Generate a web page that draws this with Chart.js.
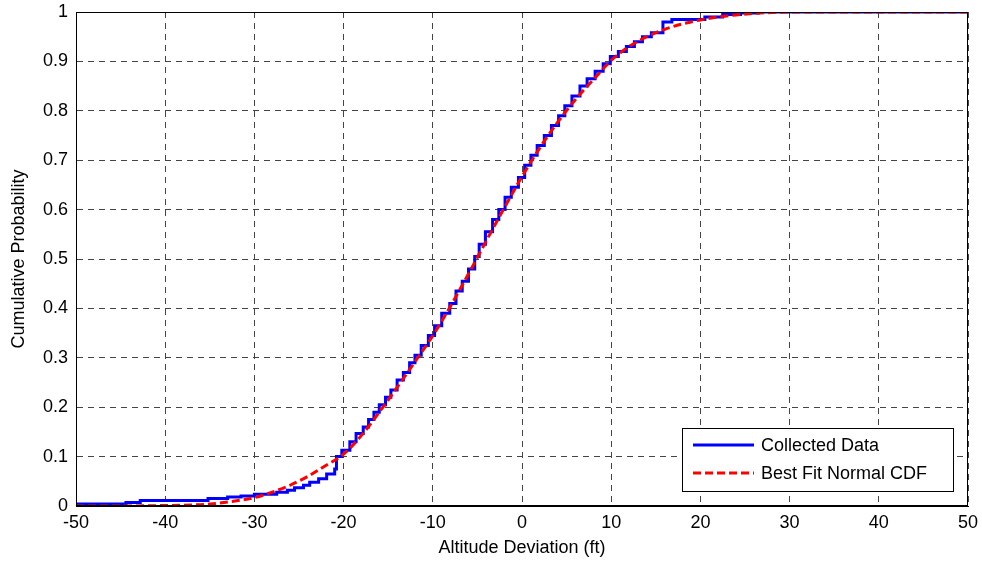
<!DOCTYPE html>
<html>
<head>
<meta charset="utf-8">
<script src="https://cdn.jsdelivr.net/npm/chart.js@4.4.1/dist/chart.umd.min.js"></script>
<style>
  html, body { margin: 0; padding: 0; background: #fff; }
  #wrap { width: 982px; height: 562px; }
</style>
</head>
<body>
<div id="wrap"><canvas id="c" width="982" height="562"></canvas></div>
<script>
// ---- data ----
const seriesNames = ['Collected Data', 'Best Fit Normal CDF'];

// Empirical CDF (step points: x where the jump occurs, y after the jump)
const collectedX = [-50, -44.4, -42.8, -35.2, -33.0, -31.5, -30.0, -27.5, -26.3, -25.5, -24.5, -23.8, -22.8, -21.9, -21.0, -20.8, -20.2,
  -19.3, -18.6, -17.8, -17.2, -16.6, -16.0, -15.3, -14.7, -14.0, -13.3, -12.6, -12.0, -11.3, -10.5, -9.8, -9.0, -8.1, -7.4, -6.7,
  -6.0, -5.3, -4.8, -4.1, -3.3, -2.6, -1.9, -1.2, -0.4, 0.3, 1.0, 1.7, 2.5, 3.3, 4.1, 4.8, 5.6, 6.5, 7.3, 8.2, 9.1, 9.9, 10.8,
  11.7, 12.6, 13.5, 14.5, 15.8, 16.8, 20.5, 22.5, 24.5, 26.5, 27.5, 50];
const collectedY = [0, 0.004, 0.007, 0.011, 0.015, 0.018, 0.020, 0.024, 0.028, 0.032, 0.037, 0.042, 0.048, 0.055, 0.065, 0.075, 0.100,
  0.113, 0.130, 0.147, 0.160, 0.175, 0.190, 0.205, 0.220, 0.235, 0.255, 0.270, 0.290, 0.305, 0.325, 0.345, 0.365, 0.390, 0.410, 0.435,
  0.455, 0.480, 0.505, 0.530, 0.555, 0.580, 0.600, 0.625, 0.645, 0.665, 0.690, 0.710, 0.730, 0.750, 0.770, 0.790, 0.810, 0.830, 0.850, 0.865, 0.880, 0.895, 0.910,
  0.920, 0.930, 0.940, 0.950, 0.958, 0.980, 0.985, 0.990, 0.995, 0.998, 1.0, 1.0];

// Best-fit normal CDF
const fitX = [-50, -45, -40, -37, -35, -33, -30, -28, -26, -24, -22, -20, -18, -16, -14, -12, -10, -8, -6, -4, -2, 0,
  2, 4, 6, 8, 10, 12, 14, 16, 18, 20, 22, 24, 26, 28, 30, 35, 40, 50];
const fitY = [0, 0, 0.001, 0.002, 0.004, 0.008, 0.017, 0.028, 0.042, 0.060, 0.082, 0.105, 0.143, 0.190, 0.240, 0.292, 0.345, 0.405, 0.470, 0.537, 0.603, 0.667,
  0.725, 0.777, 0.823, 0.863, 0.902, 0.930, 0.950, 0.965, 0.976, 0.984, 0.990, 0.994, 0.997, 0.999, 1.0, 1.0, 1.0, 1.0];

const xMin = -50, xMax = 50, xStep = 10;
const yMin = 0, yMax = 1, yStep = 0.1;
const xTitle = 'Altitude Deviation (ft)';
const yTitle = 'Cumulative Probability';

// ---- chart ----
const FONT = 'Liberation Sans, Arial, Helvetica, sans-serif';
const toPts = (xs, ys) => xs.map((x, i) => ({x: x, y: ys[i]}));

const boxPlugin = {
  id: 'boxAndLegend',
  afterDatasetsDraw(chart) {
    const {ctx, chartArea: a} = chart;
    ctx.save();
    // axes box
    ctx.strokeStyle = '#000';
    ctx.lineWidth = 1;
    ctx.setLineDash([]);
    ctx.strokeRect(a.left + 0.5, a.top + 0.5, a.right - a.left - 1, a.bottom - a.top - 1);
    // legend box
    const w = 271, h = 63;
    const bx = a.right - 15 - w, by = a.bottom - 15 - h;
    ctx.fillStyle = '#fff';
    ctx.fillRect(bx, by, w, h);
    ctx.strokeRect(bx + 0.5, by + 0.5, w, h);
    ctx.font = '18px ' + FONT;
    ctx.textBaseline = 'middle';
    ctx.textAlign = 'left';
    chart.data.datasets.forEach((ds, i) => {
      const ly = by + 17 + i * 28;
      ctx.beginPath();
      ctx.strokeStyle = ds.borderColor;
      ctx.lineWidth = 3;
      ctx.setLineDash(ds.borderDash || []);
      ctx.moveTo(bx + 11, ly);
      ctx.lineTo(bx + 72, ly);
      ctx.stroke();
      ctx.setLineDash([]);
      ctx.fillStyle = '#000';
      ctx.fillText(ds.label, bx + 79, ly + 1);
    });
    ctx.restore();
  }
};

new Chart(document.getElementById('c'), {
  type: 'line',
  data: {
    datasets: [
      {
        label: seriesNames[0],
        data: toPts(collectedX, collectedY),
        borderColor: '#0000ff',
        borderWidth: 3,
        stepped: 'after',
        pointRadius: 0,
        fill: false,
        order: 1
      },
      {
        label: seriesNames[1],
        data: toPts(fitX, fitY),
        borderColor: '#ff0000',
        borderWidth: 3,
        borderDash: [8, 4],
        cubicInterpolationMode: 'monotone',
        pointRadius: 0,
        fill: false,
        order: 0
      }
    ]
  },
  options: {
    responsive: false,
    animation: false,
    devicePixelRatio: 1,
    layout: { padding: { left: 0, right: 14, top: 12, bottom: 0 } },
    plugins: { legend: { display: false }, tooltip: { enabled: false } },
    scales: {
      x: {
        type: 'linear',
        min: xMin, max: xMax,
        ticks: { stepSize: xStep, color: '#000', font: { family: FONT, size: 18 }, padding: 6, maxRotation: 0 },
        grid: { color: '#444', lineWidth: 1, drawTicks: false },
        border: { color: '#000', width: 1, dash: [6, 5] },
        title: { display: true, text: xTitle, color: '#000', font: { family: FONT, size: 18 }, padding: { top: 0, bottom: 3 } },
        afterFit: (s) => { s.height = 56; s.paddingLeft = 0; s.paddingRight = 0; }
      },
      y: {
        type: 'linear',
        min: yMin, max: yMax,
        ticks: { stepSize: yStep, color: '#000', font: { family: FONT, size: 18 }, padding: 8,
                 callback: (v) => String(Math.round(v * 10) / 10) },
        grid: { color: '#444', lineWidth: 1, drawTicks: false },
        border: { color: '#000', width: 1, dash: [6, 5] },
        title: { display: true, text: yTitle, color: '#000', font: { family: FONT, size: 18 }, padding: { top: 8, bottom: 0 } },
        afterFit: (s) => { s.width = 76; s.paddingTop = 0; s.paddingBottom = 0; }
      }
    }
  },
  plugins: [boxPlugin]
});
</script>
</body>
</html>
